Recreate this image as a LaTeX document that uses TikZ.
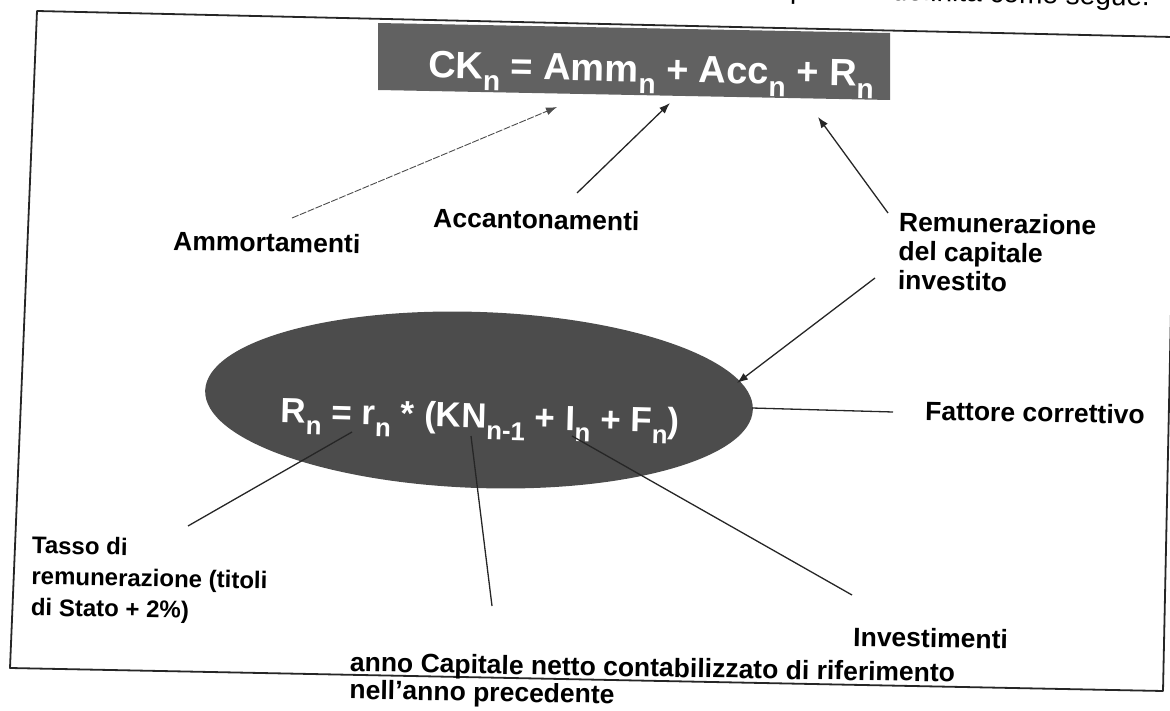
\documentclass[tikz,border=0pt]{standalone}
\usepackage{fontspec}
\setmainfont{Liberation Sans}
\usetikzlibrary{arrows.meta,shapes.geometric}
\newcommand\dn[1]{\raisebox{-0.32em}{\scalebox{0.74}{#1}}}
\begin{document}
\begin{tikzpicture}[x=1pt,y=-1pt,line join=round,
  lbl/.style={font=\fontsize{26.5}{29}\selectfont\bfseries,inner sep=0pt,rotate=-1},
  small/.style={font=\fontsize{24}{31}\selectfont\bfseries,inner sep=0pt,rotate=-1},
  frameline/.style={line width=1.8pt,black!85},
  conn/.style={line width=1.3pt,black!85},
  arr/.style={conn,-{Latex[length=11pt,width=8pt]}},
  formula/.style={text=white,inner sep=0pt,font=\bfseries}]
\useasboundingbox (0,0) rectangle (1170,711);
\clip (0,0) rectangle (1170,711);
% top text fragment (cut by the page edge)
\node[anchor=base east,inner sep=0pt,font=\fontsize{28}{30}\selectfont,rotate=-1.3] (toptxt) at (1150,6) {definita come segue.};
\node[anchor=base,inner sep=0pt,font=\fontsize{28}{30}\selectfont,rotate=-1.3] (topp) at (798,-1) {p};
% frame
\draw[frameline] (10,668) -- (37,11) -- (1172,37) -- (1172,262) -- (1163,691) -- cycle;
% top box
\fill[black!62] (378,23) -- (890,33) -- (890,100) -- (378,90) -- cycle;
\coordinate (box) at (634,61);
\node[formula,anchor=base,rotate=-1.1,font=\fontsize{38}{40}\selectfont\bfseries] (ck) at (651,82)
  {CK\dn{n} = Amm\dn{n} + Acc\dn{n} + R\dn{n}};
% ellipse
\node[ellipse,fill=black!70,minimum width=548,minimum height=176,inner sep=0pt,rotate=-2] (ell) at (479,400) {};
\node[formula,anchor=base,rotate=-1.5,font=\fontsize{35}{40}\selectfont\bfseries] (rn) at (480,428)
  {R\dn{n} = r\dn{n} * (KN\dn{n-1} + I\dn{n} + F\dn{n})};
% labels
\node[lbl,anchor=base west] (amm) at (173,250) {Ammortamenti};
\node[lbl,anchor=base west] (acc) at (433,227) {Accantonamenti};
\node[lbl,anchor=north west,align=left] (rem) at (899,212) {Remunerazione\\del capitale\\investito};
\node[lbl,anchor=base west] (fatt) at (925,420) {Fattore correttivo};
\node[small,anchor=north west,align=left] (tasso) at (32,536) {Tasso di\\remunerazione (titoli\\di Stato + 2\%)};
\node[lbl,anchor=base west] (inv) at (853,646) {Investimenti};
\node[lbl,anchor=north west,align=left,font=\fontsize{26.5}{27.5}\selectfont\bfseries,rotate=0] (cap) at (350,652)
  {anno Capitale netto contabilizzato di riferimento\\nell’anno precedente};
% connector end points
\coordinate (a1s) at (292,218); \coordinate (a1t) at (557,107);
\coordinate (a2s) at (577,193); \coordinate (a2t) at (670,103);
\coordinate (a3s) at (888,213); \coordinate (a3t) at (818,117);
\coordinate (a4s) at (875,278); \coordinate (a4t) at (737,383);
\coordinate (l1s) at (752,408); \coordinate (l1t) at (893,412);
\coordinate (l2s) at (352,432); \coordinate (l2t) at (188,526);
\coordinate (l3s) at (471,436); \coordinate (l3t) at (492,606);
\coordinate (l4s) at (572,436); \coordinate (l4t) at (852,595);
% connectors
\draw[arr,line width=0.9pt,black!70,dash pattern=on 7pt off 1.5pt] (a1s) -- (a1t);
\draw[arr] (a2s) -- (a2t);
\draw[arr] (a3s) -- (a3t);
\draw[arr] (a4s) -- (a4t);
\draw[conn] (l1s) -- (l1t);
\draw[conn] (l2s) -- (l2t);
\draw[conn] (l3s) -- (l3t);
\draw[conn] (l4s) -- (l4t);
\end{tikzpicture}
\end{document}
